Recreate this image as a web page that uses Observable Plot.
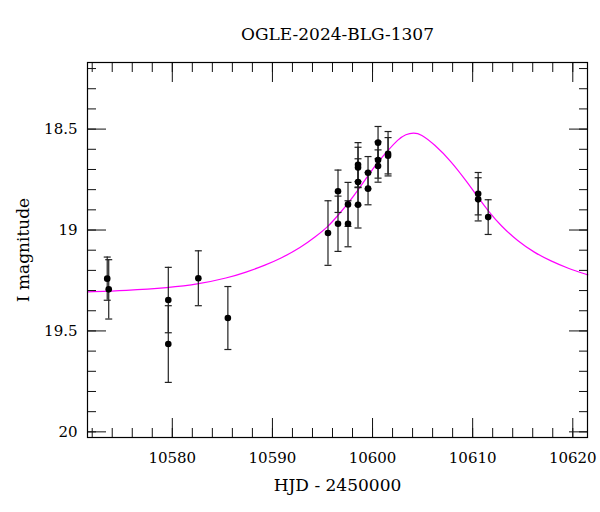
<!DOCTYPE html>
<html><head><meta charset="utf-8">
<script src="https://cdn.jsdelivr.net/npm/d3@7"></script>
<script src="https://cdn.jsdelivr.net/npm/@observablehq/plot@0.6"></script>
<style>body{margin:0;background:#fff}</style>
</head><body><div id="chart"></div>
<script>
// Observations: HJD-2450000, I magnitude, error
const obsT = [10573.5, 10573.65, 10579.6, 10579.6, 10582.6, 10585.55, 10595.55, 10596.55, 10596.55, 10597.55, 10597.55, 10598.55, 10598.55, 10598.55, 10598.55, 10599.55, 10599.55, 10600.55, 10600.55, 10600.55, 10601.55, 10601.55, 10610.55, 10610.55, 10611.55];
const obsM = [19.241, 19.294, 19.347, 19.565, 19.239, 19.436, 19.015, 18.808, 18.969, 18.873, 18.969, 18.677, 18.69, 18.762, 18.875, 18.716, 18.795, 18.567, 18.653, 18.683, 18.622, 18.632, 18.82, 18.848, 18.936];
const obsE = [0.107, 0.147, 0.162, 0.19, 0.136, 0.156, 0.16, 0.105, 0.137, 0.109, 0.114, 0.11, 0.1, 0.115, 0.115, 0.08, 0.08, 0.08, 0.09, 0.08, 0.11, 0.09, 0.105, 0.107, 0.086];

// Model curve
const modelT = [10571.53, 10575.33, 10579.66, 10582.63, 10585.53, 10587.33, 10589.33, 10590.83, 10592.83, 10594.33, 10595.53, 10596.56, 10597.56, 10598.56, 10599.53, 10600.53, 10601.56, 10602.53, 10603.33, 10604.1, 10604.83, 10606.16, 10607.83, 10609.5, 10610.56, 10611.56, 10612.83, 10614.5, 10616.16, 10617.83, 10619.5, 10621.5];
const modelM = [19.306, 19.300, 19.286, 19.268, 19.237, 19.210, 19.173, 19.141, 19.087, 19.032, 18.985, 18.927, 18.868, 18.802, 18.732, 18.663, 18.605, 18.551, 18.525, 18.517, 18.524, 18.575, 18.658, 18.766, 18.840, 18.906, 18.980, 19.055, 19.112, 19.154, 19.190, 19.222];

const xMajor = [10580, 10590, 10600, 10610, 10620];
const xMinor = [10572, 10574, 10576, 10578, 10580, 10582, 10584, 10586, 10588, 10590, 10592, 10594, 10596, 10598, 10600, 10602, 10604, 10606, 10608, 10610, 10612, 10614, 10616, 10618, 10620];
const yMajor = [18.5, 19, 19.5, 20];
const yMinor = [18.2, 18.3, 18.4, 18.5, 18.6, 18.7, 18.8, 18.9, 19.0, 19.1, 19.2, 19.3, 19.4, 19.5, 19.6, 19.7, 19.8, 19.9, 20.0];

const titleText = "OGLE-2024-BLG-1307";
const xLabel = "HJD - 2450000";
const yLabel = "I magnitude";

const data = obsT.map((t, i) => ({t, m: obsM[i], e: obsE[i]}));
const model = modelT.map((t, i) => ({t, m: modelM[i]}));

const capSymbol = {draw(ctx, size) { const r = Math.sqrt(size / Math.PI); ctx.moveTo(-r, 0); ctx.lineTo(r, 0); }};
const tk = {tickFormat: () => "", label: null, stroke: "#111", strokeWidth: 1};
const fmt = d => String(d);

const chart = Plot.plot({
  width: 600, height: 512,
  marginLeft: 87, marginRight: 13, marginTop: 62, marginBottom: 75,
  style: {fontFamily: "'DejaVu Serif', serif", fontSize: "15px", color: "#000", background: "#fff"},
  x: {domain: [10571.53, 10621.47]},
  y: {domain: [20.028, 18.17]},
  marks: [
    Plot.line(model, {x: "t", y: "m", stroke: "#ff00ff", strokeWidth: 1.2, curve: "basis"}),
    Plot.ruleX(data, {x: "t", y1: d => d.m - d.e, y2: d => d.m + d.e, stroke: "#222", strokeWidth: 1.2}),
    Plot.dot(data, {x: "t", y: d => d.m - d.e, symbol: capSymbol, r: 3.5, stroke: "#222", strokeWidth: 1.2}),
    Plot.dot(data, {x: "t", y: d => d.m + d.e, symbol: capSymbol, r: 3.5, stroke: "#222", strokeWidth: 1.2}),
    Plot.dot(data, {x: "t", y: "m", r: 3.3, fill: "#000"}),
    Plot.axisX(xMinor, {anchor: "bottom", tickSize: -9, ...tk}),
    Plot.axisX(xMajor, {anchor: "bottom", tickSize: -19, ...tk}),
    Plot.axisX(xMinor, {anchor: "top", tickSize: -9, ...tk}),
    Plot.axisX(xMajor, {anchor: "top", tickSize: -19, ...tk}),
    Plot.axisY(yMinor, {anchor: "left", tickSize: -9, ...tk}),
    Plot.axisY(yMajor, {anchor: "left", tickSize: -19, ...tk}),
    Plot.axisY(yMinor, {anchor: "right", tickSize: -9, ...tk}),
    Plot.axisY(yMajor, {anchor: "right", tickSize: -19, ...tk}),
    Plot.axisX(xMajor, {anchor: "bottom", tickSize: 0, tickPadding: 15, fontSize: 15, label: null, tickFormat: fmt}),
    Plot.axisY(yMajor, {anchor: "left", tickSize: 0, tickPadding: 10, fontSize: 15, label: null, tickFormat: fmt}),
    Plot.frame({stroke: "#000", strokeWidth: 1.2}),
    Plot.text([titleText], {text: d => d, frameAnchor: "top", lineAnchor: "middle", dy: -28, fontSize: 17}),
    Plot.text([xLabel], {text: d => d, frameAnchor: "bottom", lineAnchor: "middle", dy: 48, fontSize: 17}),
    Plot.text([yLabel], {text: d => d, frameAnchor: "left", textAnchor: "middle", lineAnchor: "middle", dx: -64, rotate: -90, fontSize: 17})
  ]
});
document.getElementById("chart").appendChild(chart);
</script>
</body></html>
